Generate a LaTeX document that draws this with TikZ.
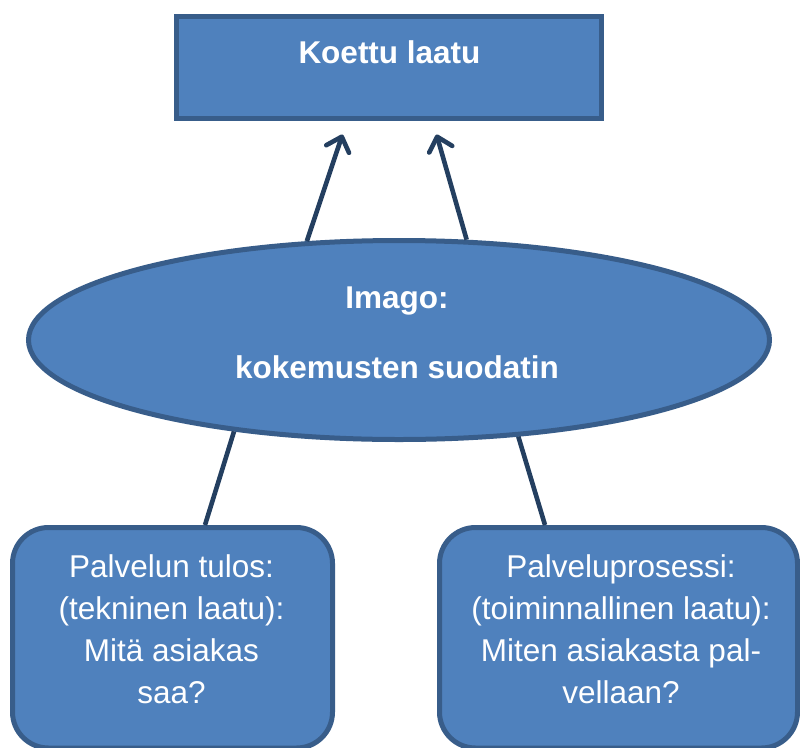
\documentclass[tikz,border=0pt]{standalone}
\usepackage{fontspec}
\setmainfont{Liberation Sans}
\usetikzlibrary{shapes.geometric,arrows.meta,calc}
\definecolor{fillblue}{HTML}{4F81BD}
\definecolor{edgeblue}{HTML}{385D8A}
\definecolor{linkblue}{HTML}{243F60}
\begin{document}
\begin{tikzpicture}[x=1pt,y=-1pt,
  shapebox/.style={draw=edgeblue,fill=fillblue,line width=5pt,inner sep=0pt},
  boldtxt/.style={text=white,font=\bfseries\fontsize{31.5}{38}\selectfont,inner sep=0pt,anchor=base},
  plaintxt/.style={text=white,font=\fontsize{31.5}{41.7}\selectfont,align=center,inner sep=0pt},
  link/.style={draw=linkblue,line width=4.6pt},
  arr/.style={link,-{Straight Barb[length=13pt,width=24pt,round]}}]
\useasboundingbox (0,0) rectangle (800,747);
\clip (0,0) rectangle (800,747);
\fill[white] (0,0) rectangle (800,747);
\node[shapebox,rectangle,minimum width=425pt,minimum height=102pt] (top) at (389,67.5) {};
\node[shapebox,ellipse,minimum width=741pt,minimum height=199pt] (ell) at (399,340) {};
\node[shapebox,rectangle,rounded corners=36pt,minimum width=320pt,minimum height=220.5pt] (bl) at (172.5,637.75) {};
\node[shapebox,rectangle,rounded corners=36pt,minimum width=358pt,minimum height=220.5pt] (br) at (618.5,637.75) {};
\node[boldtxt] (toptxt) at (389.5,63) {Koettu laatu};
\node[boldtxt] (imago) at (397,308) {Imago:};
\node[boldtxt] (filter) at (397,378) {kokemusten suodatin};
\node[plaintxt] (bltxt) at (171.5,629.2) {Palvelun tulos:\\(tekninen laatu):\\Mitä asiakas\\saa?};
\node[plaintxt] (brtxt) at (621,629.2) {Palveluprosessi:\\(toiminnallinen laatu):\\Miten asiakasta pal-\\vellaan?};
\draw[arr] (ell.133.5) -- ($(top.south)+(-46.5,13.5)$);
\draw[arr] (ell.56.6) -- ($(top.south)+(47.5,13.5)$);
\draw[link] (ell.209.6) -- ($(bl.north)+(32.5,0)$);
\draw[link] (ell.321.4) -- ($(br.north)+(-73.5,0)$);
\end{tikzpicture}
\end{document}
